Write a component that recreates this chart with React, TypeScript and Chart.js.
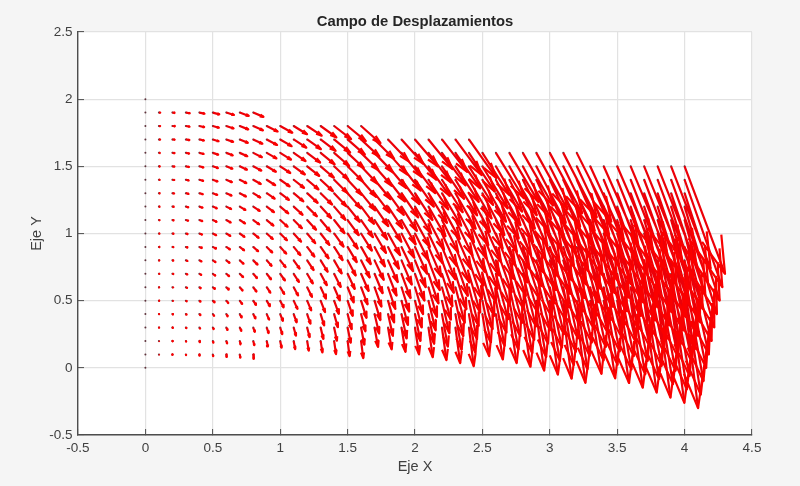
import { useEffect, useRef } from "react"
import { Chart, registerables } from "chart.js"

Chart.register(...registerables)

const nodeX = [
  0, 0.1, 0.2, 0.3, 0.4, 0.5, 0.6, 0.7, 0.8, 0.9, 1, 1.1, 1.2, 1.3, 1.4, 1.5, 1.6, 1.7, 1.8, 1.9, 2, 2.1, 2.2, 2.3, 2.4,
  2.5, 2.6, 2.7, 2.8, 2.9, 3, 3.1, 3.2, 3.3, 3.4, 3.5, 3.6, 3.7, 3.8, 3.9, 4,
]
const nodeY = [0, 0.1, 0.2, 0.3, 0.4, 0.5, 0.6, 0.7, 0.8, 0.9, 1, 1.1, 1.2, 1.3, 1.4, 1.5, 1.6, 1.7, 1.8, 1.9, 2]

// vertical displacement read per column (same index as nodeX)
const vByColumn = [
  0, -0.001, -0.002, -0.005, -0.008, -0.013, -0.018, -0.025, -0.032, -0.041, -0.05, -0.061, -0.072, -0.085, -0.098,
  -0.113, -0.128, -0.145, -0.162, -0.181, -0.2, -0.221, -0.242, -0.265, -0.288, -0.313, -0.338, -0.365, -0.392, -0.421,
  -0.45, -0.481, -0.512, -0.545, -0.578, -0.613, -0.648, -0.685, -0.722, -0.761, -0.8,
]

// horizontal displacement, one row per nodeY, each row starts at x = 0
const uByRow = [
  [0],
  [0, 0.001, 0.001, 0.002, 0.002, 0.003, 0.003, 0.004, 0.004],
  [0, 0.001, 0.002, 0.003, 0.004, 0.005, 0.006, 0.007, 0.008, 0.009, 0.01, 0.011, 0.012, 0.013, 0.014, 0.015, 0.016],
  [0, 0.002, 0.003, 0.005, 0.006, 0.008, 0.009, 0.011, 0.012, 0.014, 0.015, 0.017, 0.018, 0.02, 0.021, 0.023, 0.024, 0.026, 0.027, 0.029, 0.03, 0.032, 0.033, 0.035, 0.036],
  [0, 0.002, 0.004, 0.006, 0.008, 0.01, 0.012, 0.014, 0.016, 0.018, 0.02, 0.022, 0.024, 0.026, 0.028, 0.03, 0.032, 0.034, 0.036, 0.038, 0.04, 0.042, 0.044, 0.046, 0.048, 0.05, 0.052, 0.054, 0.056, 0.058, 0.06, 0.062, 0.064],
  [0, 0.003, 0.005, 0.008, 0.01, 0.013, 0.015, 0.018, 0.02, 0.023, 0.025, 0.028, 0.03, 0.033, 0.035, 0.038, 0.04, 0.043, 0.045, 0.048, 0.05, 0.053, 0.055, 0.058, 0.06, 0.063, 0.065, 0.068, 0.07, 0.073, 0.075, 0.078, 0.08, 0.083, 0.085, 0.088, 0.09, 0.093, 0.095, 0.098, 0.1],
  [0, 0.003, 0.006, 0.009, 0.012, 0.015, 0.018, 0.021, 0.024, 0.027, 0.03, 0.033, 0.036, 0.039, 0.042, 0.045, 0.048, 0.051, 0.054, 0.057, 0.06, 0.063, 0.066, 0.069, 0.072, 0.075, 0.078, 0.081, 0.084, 0.087, 0.09, 0.093, 0.096, 0.099, 0.102, 0.105, 0.108, 0.111, 0.114, 0.117, 0.12],
  [0, 0.004, 0.007, 0.011, 0.014, 0.018, 0.021, 0.025, 0.028, 0.032, 0.035, 0.039, 0.042, 0.046, 0.049, 0.053, 0.056, 0.06, 0.063, 0.067, 0.07, 0.074, 0.077, 0.081, 0.084, 0.088, 0.091, 0.095, 0.098, 0.102, 0.105, 0.109, 0.112, 0.116, 0.119, 0.123, 0.126, 0.13, 0.133, 0.137, 0.14],
  [0, 0.004, 0.008, 0.012, 0.016, 0.02, 0.024, 0.028, 0.032, 0.036, 0.04, 0.044, 0.048, 0.052, 0.056, 0.06, 0.064, 0.068, 0.072, 0.076, 0.08, 0.084, 0.088, 0.092, 0.096, 0.1, 0.104, 0.108, 0.112, 0.116, 0.12, 0.124, 0.128, 0.132, 0.136, 0.14, 0.144, 0.148, 0.152, 0.156, 0.16],
  [0, 0.005, 0.009, 0.014, 0.018, 0.023, 0.027, 0.032, 0.036, 0.041, 0.045, 0.05, 0.054, 0.059, 0.063, 0.068, 0.072, 0.077, 0.081, 0.086, 0.09, 0.095, 0.099, 0.104, 0.108, 0.113, 0.117, 0.122, 0.126, 0.131, 0.135, 0.14, 0.144, 0.149, 0.153, 0.158, 0.162, 0.167, 0.171, 0.176, 0.18],
  [0, 0.005, 0.01, 0.015, 0.02, 0.025, 0.03, 0.035, 0.04, 0.045, 0.05, 0.055, 0.06, 0.065, 0.07, 0.075, 0.08, 0.085, 0.09, 0.095, 0.1, 0.105, 0.11, 0.115, 0.12, 0.125, 0.13, 0.135, 0.14, 0.145, 0.15, 0.155, 0.16, 0.165, 0.17, 0.175, 0.18, 0.185, 0.19, 0.195, 0.2],
  [0, 0.006, 0.011, 0.017, 0.022, 0.028, 0.033, 0.039, 0.044, 0.05, 0.055, 0.061, 0.066, 0.072, 0.077, 0.083, 0.088, 0.094, 0.099, 0.105, 0.11, 0.116, 0.121, 0.127, 0.132, 0.138, 0.143, 0.149, 0.154, 0.16, 0.165, 0.171, 0.176, 0.182, 0.187, 0.193, 0.198, 0.204, 0.209, 0.215, 0.22],
  [0, 0.006, 0.012, 0.018, 0.024, 0.03, 0.036, 0.042, 0.048, 0.054, 0.06, 0.066, 0.072, 0.078, 0.084, 0.09, 0.096, 0.102, 0.108, 0.114, 0.12, 0.126, 0.132, 0.138, 0.144, 0.15, 0.156, 0.162, 0.168, 0.174, 0.18, 0.186, 0.192, 0.198, 0.204, 0.21, 0.216, 0.222, 0.228, 0.234, 0.24],
  [0, 0.007, 0.013, 0.02, 0.026, 0.033, 0.039, 0.046, 0.052, 0.059, 0.065, 0.072, 0.078, 0.085, 0.091, 0.098, 0.104, 0.111, 0.117, 0.124, 0.13, 0.137, 0.143, 0.15, 0.156, 0.163, 0.169, 0.176, 0.182, 0.189, 0.195, 0.202, 0.208, 0.215, 0.221, 0.228, 0.234, 0.241, 0.247, 0.254, 0.26],
  [0, 0.007, 0.014, 0.021, 0.028, 0.035, 0.042, 0.049, 0.056, 0.063, 0.07, 0.077, 0.084, 0.091, 0.098, 0.105, 0.112, 0.119, 0.126, 0.133, 0.14, 0.147, 0.154, 0.161, 0.168, 0.175, 0.182, 0.189, 0.196, 0.203, 0.21, 0.217, 0.224, 0.231, 0.238, 0.245, 0.252, 0.259, 0.266, 0.273, 0.28],
  [0, 0.008, 0.015, 0.023, 0.03, 0.038, 0.045, 0.053, 0.06, 0.068, 0.075, 0.083, 0.09, 0.098, 0.105, 0.113, 0.12, 0.128, 0.135, 0.143, 0.15, 0.158, 0.165, 0.173, 0.18, 0.188, 0.195, 0.203, 0.21, 0.218, 0.225, 0.233, 0.24, 0.248, 0.255, 0.263, 0.27, 0.278, 0.285, 0.293, 0.3],
  [0, 0.008, 0.016, 0.024, 0.032, 0.04, 0.048, 0.056, 0.064, 0.072, 0.08, 0.088, 0.096, 0.104, 0.112, 0.12, 0.128, 0.136, 0.144, 0.152, 0.16, 0.168, 0.176, 0.184, 0.192, 0.2, 0.208, 0.216, 0.224, 0.232, 0.24, 0.248, 0.256],
  [0, 0.009, 0.017, 0.026, 0.034, 0.043, 0.051, 0.06, 0.068, 0.077, 0.085, 0.094, 0.102, 0.111, 0.119, 0.128, 0.136, 0.145, 0.153, 0.162, 0.17, 0.179, 0.187, 0.196, 0.204],
  [0, 0.009, 0.018, 0.027, 0.036, 0.045, 0.054, 0.063, 0.072, 0.081, 0.09, 0.099, 0.108, 0.117, 0.126, 0.135, 0.144],
  [0, 0.01, 0.019, 0.029, 0.038, 0.048, 0.057, 0.067, 0.076],
  [0],
]

const xTicks = [-0.5, 0, 0.5, 1, 1.5, 2, 2.5, 3, 3.5, 4, 4.5]
const yTicks = [-0.5, 0, 0.5, 1, 1.5, 2, 2.5]

const title = "Campo de Desplazamientos"
const xLabel = "Eje X"
const yLabel = "Eje Y"

// arrow head proportions, same as a matlab quiver
const headLen = 0.33
const headSpread = 0.27

type Pt = { x: number; y: number }
const gap: Pt = { x: NaN, y: NaN }

function buildQuiver() {
  const bases: Pt[] = []
  const shafts: Pt[] = []
  const heads: Pt[] = []
  uByRow.forEach((row, j) => {
    row.forEach((u, i) => {
      const x = nodeX[i]
      const y = nodeY[j]
      const v = vByColumn[i]
      bases.push({ x, y })
      shafts.push({ x, y }, { x: x + u, y: y + v }, gap)
      heads.push(
        { x: x + u - headLen * (u + headSpread * v), y: y + v - headLen * (v - headSpread * u) },
        { x: x + u, y: y + v },
        { x: x + u - headLen * (u - headSpread * v), y: y + v - headLen * (v + headSpread * u) },
        gap,
      )
    })
  })
  return { bases, shafts, heads }
}

const plotBackground = {
  id: "plotBackground",
  beforeDraw(chart: any) {
    const { ctx, chartArea } = chart
    ctx.save()
    ctx.fillStyle = "#ffffff"
    ctx.fillRect(chartArea.left, chartArea.top, chartArea.width, chartArea.height)
    ctx.restore()
  },
}

const fontFamily = "'Liberation Sans', Arial, sans-serif"
const gridColor = "#e2e2e2"
const axisColor = "#4d4d4d"
const textColor = "#404040"

export default function App() {
  const chartRef = useRef<HTMLCanvasElement>(null)

  useEffect(() => {
    if (!chartRef.current) return
    const { bases, shafts, heads } = buildQuiver()
    const arrowStyle = {
      borderWidth: 2.2,
      borderJoinStyle: "round" as const,
      pointRadius: 0,
      showLine: true,
      spanGaps: false,
    }
    const chart = new Chart(chartRef.current, {
      type: "scatter",
      data: {
        datasets: [
          { label: "heads", data: heads, borderColor: "#fa0000", ...arrowStyle },
          { label: "shafts", data: shafts, borderColor: "#ec0008", ...arrowStyle },
          {
            label: "nodes",
            data: bases,
            showLine: false,
            pointRadius: 1,
            pointBorderWidth: 0,
            pointBackgroundColor: "rgba(70,20,30,0.85)",
          },
        ],
      },
      plugins: [plotBackground],
      options: {
        responsive: false,
        animation: false,
        layout: { padding: { left: 0, right: 48, top: 0, bottom: 0 } },
        plugins: {
          legend: { display: false },
          tooltip: { enabled: false },
          title: {
            display: true,
            text: title,
            fullSize: false,
            color: "#262626",
            font: { family: fontFamily, size: 14.8, weight: "bold" },
            padding: { top: 12.6, bottom: 1.6 },
          },
        },
        scales: {
          x: {
            type: "linear",
            min: -0.5,
            max: 4.5,
            afterBuildTicks: (scale: any) => {
              scale.ticks = xTicks.map((value) => ({ value }))
            },
            afterFit: (scale: any) => {
              scale.height = 51
            },
            ticks: {
              color: textColor,
              padding: 11.6,
              maxRotation: 0,
              font: { family: fontFamily, size: 13.5 },
              callback: (value: any) => String(value),
            },
            grid: { color: gridColor, lineWidth: 1.2, tickLength: -6, tickColor: axisColor, tickWidth: 1 },
            border: { color: axisColor, width: 1.4 },
            title: {
              display: true,
              text: xLabel,
              color: textColor,
              font: { family: fontFamily, size: 14.5 },
              padding: { top: 0, bottom: 10.5 },
            },
          },
          y: {
            type: "linear",
            min: -0.5,
            max: 2.5,
            afterBuildTicks: (scale: any) => {
              scale.ticks = yTicks.map((value) => ({ value }))
            },
            afterFit: (scale: any) => {
              scale.width = 78
            },
            ticks: {
              color: textColor,
              padding: 11.5,
              font: { family: fontFamily, size: 13.5 },
              callback: (value: any) => String(value),
            },
            grid: { color: gridColor, lineWidth: 1.2, tickLength: -6, tickColor: axisColor, tickWidth: 1 },
            border: { color: axisColor, width: 1.4 },
            title: {
              display: true,
              text: yLabel,
              color: textColor,
              font: { family: fontFamily, size: 14.5 },
              padding: { top: 28.3, bottom: 0 },
            },
          },
        },
      },
    })
    return () => chart.destroy()
  }, [])

  return (
    <div style={{ position: "fixed", left: 0, top: 0, width: 800, height: 486, background: "#f5f5f5" }}>
      <canvas ref={chartRef} width={800} height={486} style={{ display: "block" }} />
    </div>
  )
}
